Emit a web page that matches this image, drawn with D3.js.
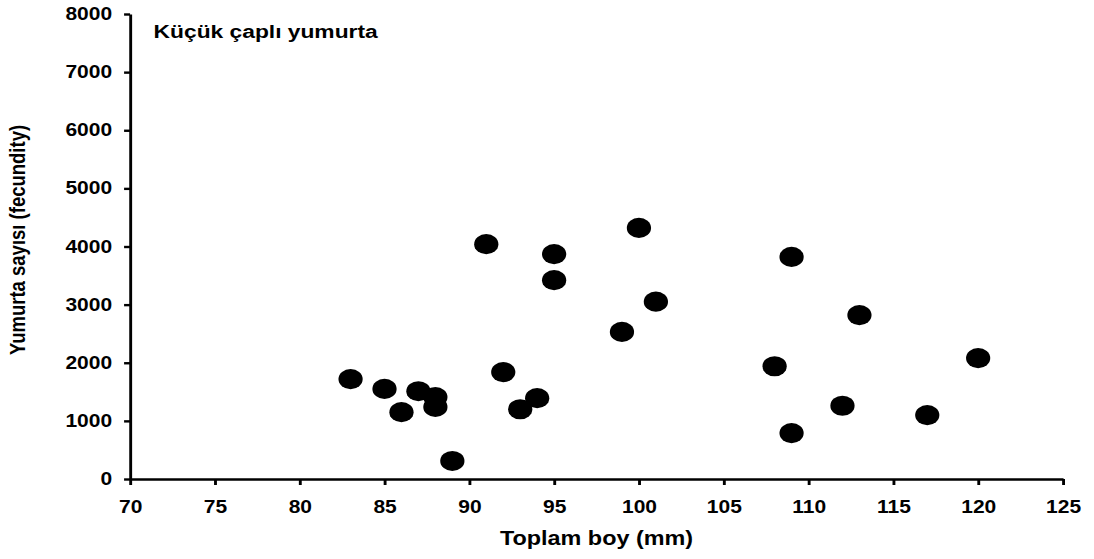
<!DOCTYPE html>
<html>
<head>
<meta charset="utf-8">
<script src="https://cdn.jsdelivr.net/npm/d3@7/dist/d3.min.js"></script>
<style>
  html, body { margin: 0; padding: 0; background: #fff; }
  svg { display: block; }
  text { font-family: "Liberation Sans", Arial, sans-serif; font-weight: bold; fill: #000; }
</style>
</head>
<body>
<svg id="chart"></svg>
<script>
// Total length (mm) and egg count (fecundity) per fish
const lengthMm = [83, 85, 86, 87, 88, 88, 89, 91, 92, 93, 94, 95, 95, 99, 100, 101, 108, 109, 109, 112, 113, 117, 120];
const eggCount = [1720, 1550, 1150, 1510, 1410, 1240, 310, 4040, 1840, 1200, 1390, 3870, 3420, 2530, 4320, 3050, 1940, 3820, 790, 1260, 2820, 1100, 2080];

const xTicks = [70, 75, 80, 85, 90, 95, 100, 105, 110, 115, 120, 125];
const yTicks = [0, 1000, 2000, 3000, 4000, 5000, 6000, 7000, 8000];

const chartTitle = "Küçük çaplı yumurta";
const xTitle = "Toplam boy (mm)";
const yTitle = "Yumurta sayısı (fecundity)";

const W = 1094, H = 559;
const stretch = 1.2;              // drawing is widened horizontally
const VW = W / stretch;

const svg = d3.select("#chart")
  .attr("width", W).attr("height", H)
  .attr("viewBox", `0 0 ${VW} ${H}`)
  .attr("preserveAspectRatio", "none");

const plotLeft = 108.4, plotRight = 885.8, plotTop = 14, plotBottom = 479;

const x = d3.scaleLinear().domain([70, 125]).range([plotLeft, plotRight]);
const y = d3.scaleLinear().domain([0, 8000]).range([plotBottom, plotTop]);

// x axis
const gx = svg.append("g")
  .attr("transform", `translate(0,${plotBottom})`)
  .call(d3.axisBottom(x).tickValues(xTicks).tickFormat(d3.format("d"))
    .tickSize(6).tickPadding(16).tickSizeOuter(0));
// y axis
const gy = svg.append("g")
  .attr("transform", `translate(${plotLeft},0)`)
  .call(d3.axisLeft(y).tickValues(yTicks).tickFormat(d3.format("d"))
    .tickSize(5).tickPadding(10).tickSizeOuter(0));

[gx, gy].forEach(g => {
  g.attr("font-size", null).attr("font-family", null);
  g.select(".domain").attr("stroke", "#000").attr("stroke-width", 2.4);
  g.selectAll(".tick line").attr("stroke", "#000").attr("stroke-width", 2.4);
  g.selectAll(".tick text")
    .style("font-family", '"Liberation Sans", Arial, sans-serif')
    .style("font-weight", "bold")
    .style("font-size", "17.5px")
    .attr("fill", "#000");
});

// points
svg.append("g")
  .selectAll("circle")
  .data(lengthMm.map((v, i) => ({ len: v, eggs: eggCount[i] })))
  .join("circle")
  .attr("cx", d => x(d.len))
  .attr("cy", d => y(d.eggs))
  .attr("r", 10.1)
  .attr("fill", "#000");

// chart title inside the plot
svg.append("text")
  .attr("x", 128).attr("y", 38)
  .style("font-size", "19px")
  .text(chartTitle);

// axis titles
svg.append("text")
  .attr("x", (plotLeft + plotRight) / 2).attr("y", 545)
  .attr("text-anchor", "middle")
  .style("font-size", "19.5px")
  .text(xTitle);

svg.append("text")
  .attr("transform", `translate(21,240) rotate(-90)`)
  .attr("text-anchor", "middle")
  .style("font-size", "18.5px")
  .text(yTitle);
</script>
</body>
</html>
